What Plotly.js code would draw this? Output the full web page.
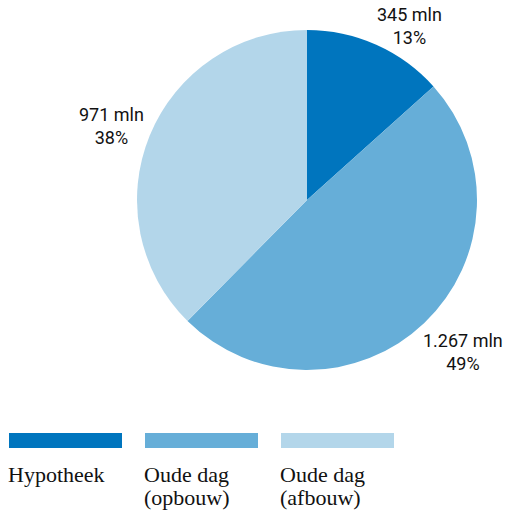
<!DOCTYPE html>
<html><head><meta charset="utf-8">
<script src="https://cdn.plot.ly/plotly-3.0.1.min.js"></script>
<style>html,body{margin:0;padding:0;background:#fff}#c{width:507px;height:513px}</style>
</head><body><div id="c"></div>
<script>
const categories = ["Hypotheek", "Oude dag<br>(opbouw)", "Oude dag<br>(afbouw)"];
const values = [345, 1267, 971];
const colors = ["#0075BE", "#66AED8", "#B3D6EA"];

const W = 507, H = 513;
const cx = 307, cy = 200, R = 170;

const trace = {
  type: "pie",
  labels: categories,
  values: values,
  sort: false,
  direction: "clockwise",
  rotation: 0,
  marker: {colors: colors, line: {width: 0}},
  textinfo: "none",
  hoverinfo: "none",
  showlegend: false,
  domain: {x: [(cx - R)/W, (cx + R)/W], y: [1 - (cy + R)/H, 1 - (cy - R)/H]}
};

// Label placement (style): anchor and pixel nudges per slice
const labelStyle = [
  {xa: "left", ya: "bottom", dx: -1, dy: -5},
  {xa: "left", ya: "top", dx: -3, dy: -5},
  {xa: "right", ya: "bottom", dx: -4, dy: -15}
];

const total = values.reduce((a, b) => a + b, 0);
const fmt = v => String(v).replace(/\B(?=(\d{3})+(?!\d))/g, ".");
const annotations = [];
let cum = 0;
values.forEach((v, i) => {
  const mid = (cum + v / 2) / total * 2 * Math.PI;
  cum += v;
  const px = cx + R * Math.sin(mid), py = cy - R * Math.cos(mid);
  const s = labelStyle[i];
  annotations.push({xref: "paper", yref: "paper", x: px / W, y: 1 - py / H,
    xanchor: s.xa, yanchor: s.ya, xshift: s.dx, yshift: s.dy, align: "center",
    showarrow: false, text: fmt(v) + " mln<br>" + Math.round(v / total * 100) + "%",
    font: {family: "Roboto", size: 18, color: "#111"}});
});

const shapes = [];
const legX = [9, 145, 281];
categories.forEach((c, i) => {
  shapes.push({type: "rect", xref: "paper", yref: "paper",
    x0: legX[i]/W, x1: (legX[i]+113)/W, y0: 1-448/H, y1: 1-433/H,
    fillcolor: colors[i], line: {width: 0}});
  c.split("<br>").forEach((line, j) => {
    annotations.push({xref: "paper", yref: "paper", x: legX[i]/W, y: 1-(460 + 23*j)/H,
      xanchor: "left", yanchor: "top", xshift: -3, align: "left", showarrow: false, text: line,
      font: {family: "Liberation Serif", size: 22, color: "#111"}});
  });
});

Plotly.newPlot("c", [trace], {
  width: W, height: H,
  margin: {l: 0, r: 0, t: 0, b: 0},
  paper_bgcolor: "#fff",
  shapes: shapes,
  annotations: annotations
}, {staticPlot: true});
</script></body></html>
